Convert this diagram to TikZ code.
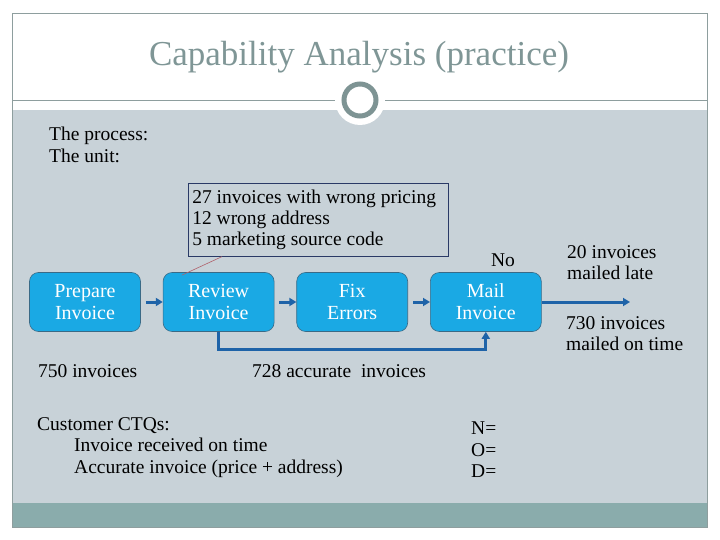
\documentclass[tikz,border=0pt]{standalone}
\usepackage{fontspec}
\setmainfont{Liberation Serif}
\usetikzlibrary{arrows.meta, positioning}
\definecolor{cFrame}{HTML}{8E9E9E}
\definecolor{cBody}{HTML}{C8D2D8}
\definecolor{cBand}{HTML}{8AACAC}
\definecolor{cRing}{HTML}{7E9494}
\definecolor{cTitle}{HTML}{7F9696}
\definecolor{cProc}{HTML}{1AA9E4}
\definecolor{cProcB}{HTML}{3A6A86}
\definecolor{cFlow}{HTML}{1E63A8}
\definecolor{cNoteB}{HTML}{2A3A66}
\definecolor{cPin}{HTML}{B0606A}

\begin{document}
\begin{tikzpicture}[x=1pt, y=-1pt,
    proc/.style={rounded corners=9pt, minimum height=59pt, minimum width=111pt,
                 align=center, fill=cProc, draw=cProcB, line width=0.6pt,
                 text=white, font=\fontsize{20}{22}\selectfont},
    note/.style={draw=cNoteB, line width=0.6pt, text width=252pt,
                 minimum height=73pt, align=flush left, inner xsep=4pt,
                 font=\fontsize{19.5}{21}\selectfont},
    txt/.style={align=left, inner sep=0pt, font=\fontsize{19.5}{21.5}\selectfont},
    ar/.style={-{Triangle[length=7pt,width=8pt]}, line width=3pt, draw=cFlow},
]
\useasboundingbox (0,0) rectangle (720,540);

% === SLIDE FRAME ===
\fill[cBody] (12,110) rectangle (707,503);
\fill[cBand] (12,503) rectangle (707,527);
\draw[cFrame, line width=0.8pt] (12,13) rectangle (707,527);
\draw[cFrame, line width=0.8pt] (12,100) -- (707,100);
\fill[white] (360,100) circle[radius=25pt];
\draw[cRing, line width=5pt] (360,100) circle[radius=16pt];

\node[font=\fontsize{35}{38}\selectfont, text=cTitle] (ttl) at (359,57)
    {Capability Analysis (practice)};

% === HEADER TEXT ===
\node[txt, anchor=north west] (hdr) at (49,127) {The process:\\The unit:};

% === PROCESS ROW ===
\node[proc] (prep) at (85,302) {Prepare\\Invoice};
\node[proc, right=22pt of prep] (rev) {Review\\Invoice};
\node[proc, right=22pt of rev] (fix) {Fix\\Errors};
\node[proc, right=22pt of fix] (mail) {Mail\\Invoice};

\draw[ar] ([xshift=5pt]prep.east) -- (rev.west);
\draw[ar] ([xshift=5pt]rev.east) -- (fix.west);
\draw[ar] ([xshift=5pt]fix.east) -- (mail.west);

% feedback: accurate invoices skip the fix step
\draw[ar] (rev.south) -- ++(0,18) -| (mail.south);

\coordinate (out) at (630,302);
\draw[ar] (mail.east) -- (out);

% === ERROR CALLOUT ===
\node[note, anchor=north west] (note) at (188,183)
    {27 invoices with wrong pricing\\12 wrong address\\5 marketing source code};
\draw[cPin, line width=0.6pt] ([xshift=34pt]note.south west)
    -- ([shift={(19,3)}]rev.north west);

% === LABELS ===
\node[txt, anchor=base] (no) at (503,266) {No};
\node[txt, anchor=north west] (late) at (567,245) {20 invoices\\mailed late};
\node[txt, anchor=north west] (ontime) at (566,316) {730 invoices\\mailed on time};
\node[txt, anchor=north west] (n750) at (38,364) {750 invoices};
\node[txt, anchor=north west] (n728) at (252,364) {728 accurate\ \ invoices};

% === CTQs AND NOD ===
\node[txt, anchor=north west] (ctq) at (37,417)
    {Customer CTQs:\\\hspace*{37pt}Invoice received on time\\\hspace*{37pt}Accurate invoice (price + address)};
\node[txt, anchor=north west] (nod) at (471,422) {N=\\O=\\D=};

\end{tikzpicture}
\end{document}
